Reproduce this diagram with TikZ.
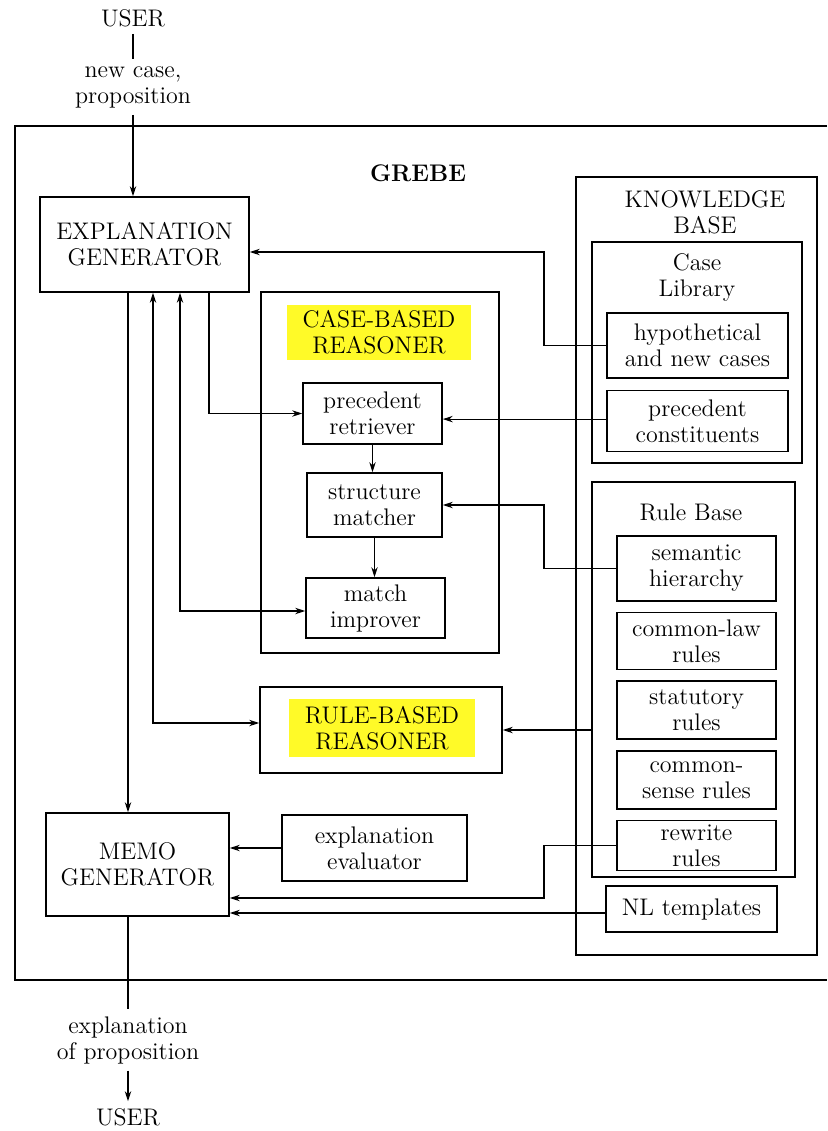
\documentclass[tikz,border=0pt]{standalone}
\usepackage{tikz}
\usetikzlibrary{arrows.meta,positioning}
\definecolor{hilite}{RGB}{255,250,40}

\begin{document}
\begin{tikzpicture}[
    x=0.5pt, y=-0.5pt,
    node distance=5pt,
    txt/.style={font=\fontsize{12}{13}\selectfont,align=center},
    box/.style={txt,draw,line width=0.8pt,inner sep=0pt},
    frame/.style={draw,line width=0.8pt,inner sep=0pt},
    hl/.style={txt,fill=hilite,inner sep=0pt},
    wh/.style 2 args={minimum width=#1pt,minimum height=#2pt},
    line/.style={line width=0.55pt},
    arrow/.style={-{Stealth[length=5pt,width=3.2pt]},line width=0.55pt},
    twoway/.style={{Stealth[length=5pt,width=3.2pt]}-{Stealth[length=5pt,width=3.2pt]},line width=0.55pt}
]
\useasboundingbox (0,0) rectangle (827,1131);

% GREBE frame, cut off at the right edge
\draw[line width=0.8pt] (827,126) -- (15,126) -- (15,980) -- (827,980);
\node[txt,font=\fontsize{12}{13}\selectfont\bfseries] (grebe) at (418,173) {GREBE};

% user in / out
\node[txt] (userin) at (133,18) {USER};
\node[txt] (newcase) at (133,87) {new case,\\proposition};
\node[txt] (explout) at (128,1040) {explanation\\of proposition};
\node[txt] (userout) at (128,1117) {USER};

% generators
\node[box,wh={104.5}{47.5}] (explgen) at (144.5,244.5) {EXPLANATION\\GENERATOR};
\node[box,wh={91.5}{51.5}] (memogen) at (137.5,864.5) {MEMO\\GENERATOR};
\node[box,wh={92.5}{33}] (evaluator) at (374.5,848) {explanation\\evaluator};

% case-based reasoner
\node[frame,wh={119}{180.5}] (cbr) at (380,472.5) {};
\node[hl,wh={92}{27.5}] (cbrtitle) at (379,332.5) {CASE-BASED\\REASONER};
\node[box,wh={69.5}{30.5}] (retriever) at (372.5,413.5) {precedent\\retriever};
\node[box,wh={67.5}{32}] (matcher) at (374.5,505) {structure\\matcher};
\node[box,wh={69.5}{30}] (improver) at (375.5,608) {match\\improver};

% rule-based reasoner
\node[frame,wh={121}{43}] (rbr) at (381,730) {};
\node[hl,wh={93}{29}] (rbrtitle) at (382,728) {RULE-BASED\\REASONER};

% knowledge base
\node[frame,wh={120.5}{389}] (kb) at (696.5,566) {};
\node[txt] (kbtitle) at (705,212) {KNOWLEDGE\\BASE};
\node[frame,wh={105}{110.5}] (caselib) at (697,352.5) {};
\node[txt] (caselibtitle) at (697,277) {Case\\Library};
\node[box,wh={90.5}{32.5}] (hypo) at (697.5,345.5) {hypothetical\\and new cases};
\node[box,wh={90.5}{30.5},below=5.5pt of hypo] (constit) {precedent\\constituents};

\node[frame,wh={101.5}{197.5}] (rulebase) at (693.5,679.5) {};
\node[txt] (rulebasetitle) at (691,512) {Rule Base};
\node[box,wh={79.5}{32.5}] (semantic) at (696.5,568.5) {semantic\\hierarchy};
\node[box,wh={79.5}{28.5},below=of semantic] (commonlaw) {common-law\\rules};
\node[box,wh={79.5}{29},below=of commonlaw] (statutory) {statutory\\rules};
\node[box,wh={79.5}{29},below=of statutory] (commonsense) {common-\\sense rules};
\node[box,wh={79.5}{25},below=of commonsense] (rewrite) {rewrite\\rules};
\node[box,wh={85.5}{23}] (nltempl) at (691.5,909) {NL templates};

% lanes for the vertical runs
\coordinate (laneA) at (128,0);
\coordinate (laneB) at (153,0);
\coordinate (laneC) at (180,0);
\coordinate (laneD) at (209,0);
\coordinate (laneE) at (544,0);

% connectors
\draw[line] (userin.south) -- (newcase.north);
\draw[arrow] (newcase.south) -- (newcase.south |- explgen.north);
\draw[arrow] (hypo.west) -- (hypo.west -| laneE) |- ([yshift=-3.75pt]explgen.east);
\draw[arrow] (explgen.south -| laneA) -- (memogen.north -| laneA);
\draw[twoway] (explgen.south -| laneB) |- ([yshift=3.5pt]rbr.west);
\draw[twoway] (explgen.south -| laneC) |- ([yshift=-1.5pt]improver.west);
\draw[arrow] (explgen.south -| laneD) |- (retriever.west);
\draw[arrow] (retriever.south) -- (retriever.south |- matcher.north);
\draw[arrow] (matcher.south) -- (matcher.south |- improver.north);
\draw[arrow] ([yshift=1pt]constit.west) -- ([yshift=1pt]constit.west -| retriever.east);
\draw[arrow] (semantic.west) -- (semantic.west -| laneE) |- (matcher.east);
\draw[arrow] (rulebase.west |- rbr.east) -- (rbr.east);
\draw[arrow] (evaluator.west) -- (evaluator.west -| memogen.east);
\draw[arrow] (rewrite.west) -- (rewrite.west -| laneE) |- ([yshift=-16.75pt]memogen.east);
\draw[arrow] ([yshift=-2pt]nltempl.west) -- ([yshift=-2pt]nltempl.west -| memogen.east);
\draw[line] (memogen.south -| laneA) -- (explout.north);
\draw[arrow] (explout.south) -- (userout.north);

\end{tikzpicture}
\end{document}
